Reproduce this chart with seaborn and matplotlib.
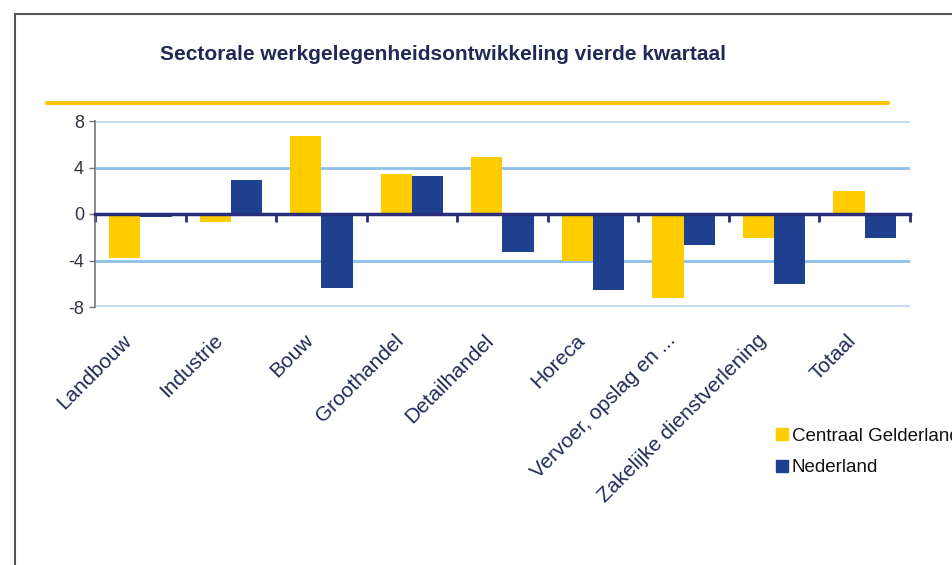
import pandas as pd
import numpy as np
import seaborn as sns
import matplotlib.pyplot as plt
from matplotlib.lines import Line2D
from matplotlib.patches import Rectangle
from matplotlib.transforms import ScaledTranslation

# data
sectors = ['Landbouw', 'Industrie', 'Bouw', 'Groothandel', 'Detailhandel',
           'Horeca', 'Vervoer, opslag en ...', 'Zakelijke dienstverlening', 'Totaal']
centraal_gelderland = [-3.8, -0.7, 6.7, 3.4, 4.9, -4.0, -7.2, -2.1, 2.0]
nederland = [-0.3, 2.9, -6.4, 3.3, -3.3, -6.5, -2.7, -6.0, -2.1]
series_names = ['Centraal Gelderland', 'Nederland']
yticks = [-8, -4, 0, 4, 8]

yellow = '#FFCC00'
navy = '#1F3F8F'
textnavy = '#1F2A56'
axisnavy = '#2A2C7C'

df = pd.DataFrame({
    'sector': sectors * 2,
    'waarde': centraal_gelderland + nederland,
    'reeks': [series_names[0]] * len(sectors) + [series_names[1]] * len(sectors),
})

sns.set_style('white')
plt.rcParams['font.family'] = ['Liberation Sans', 'DejaVu Sans']
plt.rcParams['axes.unicode_minus'] = False

fig = plt.figure(figsize=(9.53, 5.65), dpi=100)
ax = fig.add_axes([95/953, 1 - 307/565, 815/953, (307 - 121)/565])

sns.barplot(data=df, x='sector', y='waarde', hue='reeks', order=sectors,
            hue_order=series_names, palette=[yellow, navy], saturation=1,
            width=0.69, gap=0, legend=False, ax=ax, edgecolor='none', linewidth=0,
            zorder=3)

ax.set_ylim(-8, 8)
ax.set_xlim(-0.5, len(sectors) - 0.5)
ax.set_xlabel('')
ax.set_ylabel('')

# grid lines
for v in yticks:
    if v == 0:
        continue
    if abs(v) == 8:
        ax.axhline(v, color='#C6DDF3', lw=3, zorder=1)
    else:
        ax.axhline(v, color='#8DC0EA', lw=2, zorder=1)

# y axis
ax.set_yticks(yticks)
ax.tick_params(axis='y', left=True, length=4, width=1, color='#777777',
               labelsize=13, labelcolor='#333344', pad=4)
for s in ['top', 'right']:
    ax.spines[s].set_visible(False)
ax.spines['left'].set_color('#777777')
ax.spines['left'].set_linewidth(1.2)

# zero axis with ticks at category boundaries
ax.spines['bottom'].set_position(('data', 0))
ax.spines['bottom'].set_color(axisnavy)
ax.spines['bottom'].set_linewidth(2.5)
ax.spines['bottom'].set_zorder(4)
ax.set_xticks(np.arange(len(sectors) + 1) - 0.5)
ax.set_xticklabels([])
ax.tick_params(axis='x', bottom=True, direction='out', length=6, width=2, color=axisnavy)

# category labels at the bottom
sec = ax.secondary_xaxis(0)
sec.set_xticks(range(len(sectors)))
sec.set_xticklabels(sectors, rotation=45, ha='right', rotation_mode='anchor')
sec.tick_params(length=0, labelsize=15, labelcolor=textnavy, pad=17)
sec.spines['bottom'].set_visible(False)
shift = ScaledTranslation(-18/100, 0, fig.dpi_scale_trans)
for lab in sec.get_xticklabels():
    lab.set_transform(lab.get_transform() + shift)

# legend (text runs off the right edge, as in the original)
handles = [Line2D([], [], marker='s', ls='none', markersize=9, color=c)
           for c in [yellow, navy]]
fig.legend(handles, series_names, loc='upper left', bbox_to_anchor=(758/953, 1 - 411/565),
           frameon=False, fontsize=13.5, handletextpad=0.1, labelspacing=0.75,
           handlelength=0.8, labelcolor='#111111')

# title and decorations
fig.text(443/953, 1 - 55/565, 'Sectorale werkgelegenheidsontwikkeling vierde kwartaal',
         ha='center', va='center', fontsize=15, fontweight='bold', color=textnavy)
fig.add_artist(Line2D([47/953, 888/953], [1 - 103/565, 1 - 103/565],
                      color='#FFC400', lw=3))
fig.add_artist(Rectangle((15/953, -0.1), 1.2, 1.1 - 14/565, fill=False,
                         edgecolor='#555555', lw=1.5))

fig.savefig('out.png', dpi=100)
